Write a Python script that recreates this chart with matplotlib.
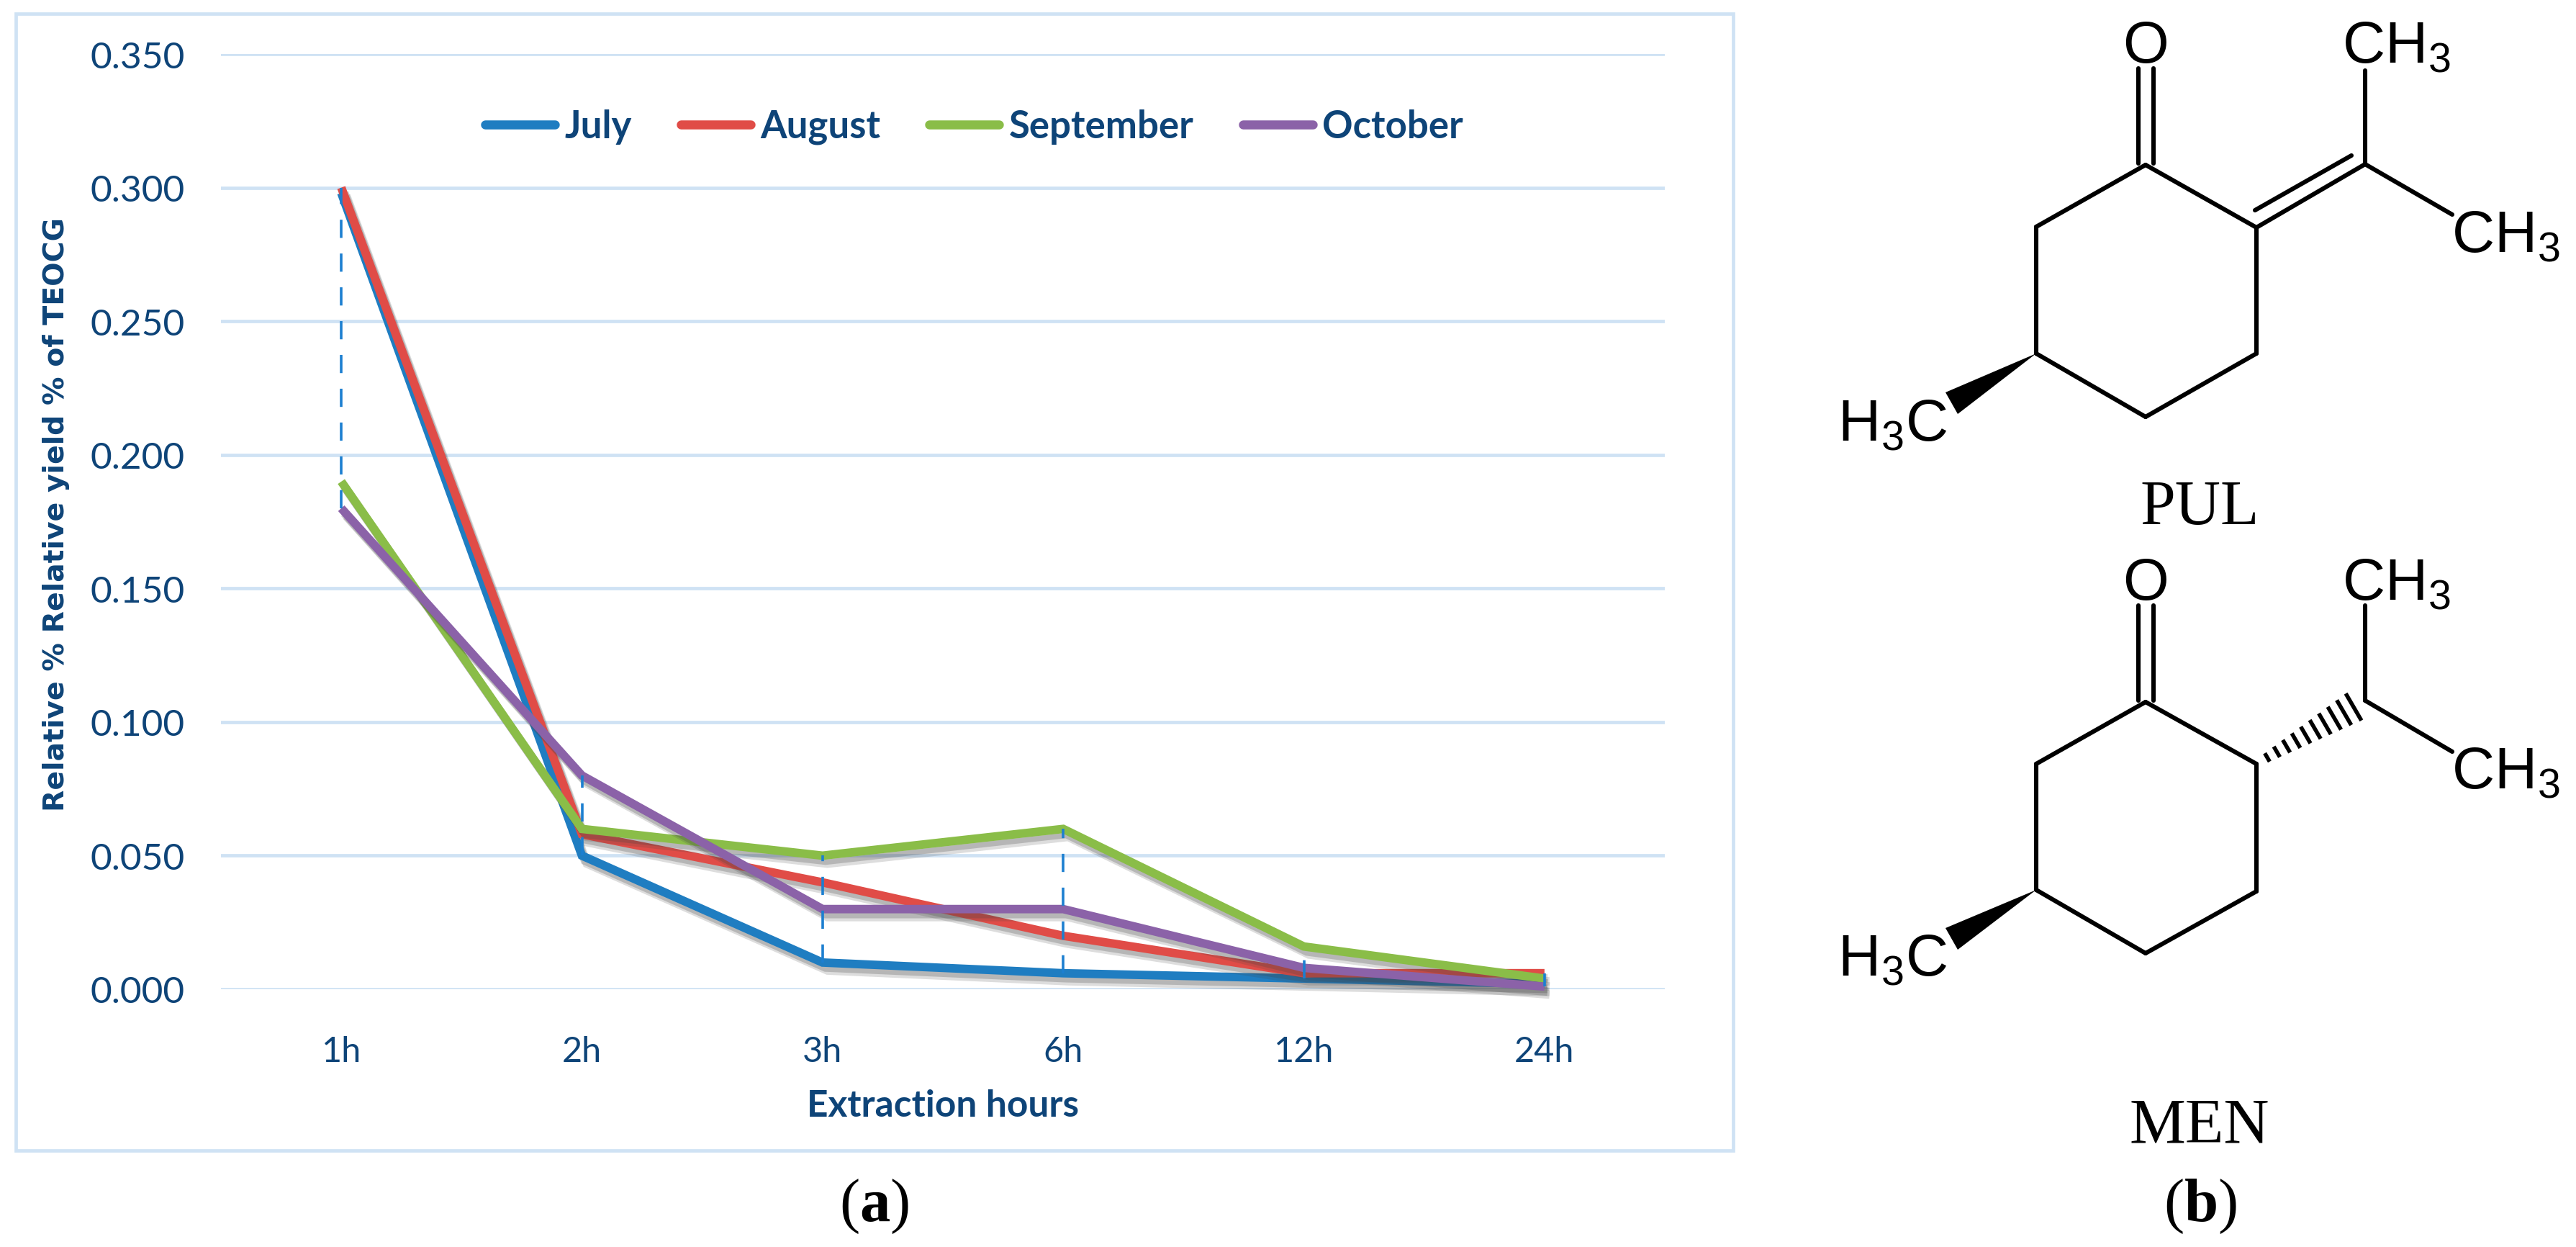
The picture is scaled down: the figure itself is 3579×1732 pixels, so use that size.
#!/usr/bin/env python
import numpy as np
import matplotlib
matplotlib.use('Agg')
import matplotlib.pyplot as plt
import matplotlib.patheffects as pe
from matplotlib.patches import Polygon, Rectangle

# chart values
hours = ['1h', '2h', '3h', '6h', '12h', '24h']
july = [0.298, 0.050, 0.010, 0.006, 0.004, 0.002]
august = [0.300, 0.058, 0.040, 0.020, 0.006, 0.006]
september = [0.190, 0.060, 0.050, 0.060, 0.016, 0.004]
october = [0.180, 0.080, 0.030, 0.030, 0.008, 0.001]
y_ticks = [0.0, 0.05, 0.10, 0.15, 0.20, 0.25, 0.30, 0.35]

W, H = 3580, 1733
TEXT_BLUE = '#0E4478'
GRID_BLUE = '#CFE2F4'

plt.rcParams['mathtext.fontset'] = 'custom'
plt.rcParams['mathtext.rm'] = 'Liberation Sans'
plt.rcParams['mathtext.bf'] = 'Liberation Serif:bold'

fig = plt.figure(figsize=(W / 100, H / 100), dpi=100, facecolor='white')

# panel (a)
left, right, top, bottom = 307, 2313, 76, 1375
ax = fig.add_axes([left / W, 1 - bottom / H, (right - left) / W, (bottom - top) / H])
ax.set_xlim(-0.5, 5.5)
ax.set_ylim(0, 0.35)
for s in ax.spines.values():
    s.set_visible(False)
ax.set_axisbelow(True)
ax.yaxis.grid(True, color=GRID_BLUE, lw=3.4)
ax.xaxis.grid(False)
ax.tick_params(length=0)
ax.set_yticks(y_ticks)
ax.set_yticklabels([f'{v:.3f}' for v in y_ticks], family='Lato', fontsize=37, color=TEXT_BLUE)
ax.set_xticks(range(len(hours)))
ax.set_xticklabels(hours, family='Lato', fontsize=35, color=TEXT_BLUE)
ax.tick_params(axis='y', pad=36)
ax.tick_params(axis='x', pad=46)

series = [('July', july, '#1F7DC1'), ('August', august, '#E04C47'),
          ('September', september, '#8ABD48'), ('October', october, '#8B62A8')]
shadow = [pe.SimpleLineShadow(offset=(5, -8), shadow_color='#444444', alpha=0.18),
          pe.SimpleLineShadow(offset=(3, -5), shadow_color='#444444', alpha=0.25), pe.Normal()]
for name, vals, col in series:
    ax.plot(range(len(hours)), vals, color=col, lw=8.5, label=name, clip_on=False,
            solid_joinstyle='miter', solid_capstyle='butt', path_effects=shadow)

# high-low lines between the series
table = np.array([v for _, v, _ in series])
ax.vlines(range(len(hours)), table.min(axis=0), table.max(axis=0), color='#1C7FD0', lw=2.6,
          linestyles=(0, (7, 6)), zorder=5)

leg = ax.legend(loc='upper left', bbox_to_anchor=(0.183, 0.9415), ncol=4, frameon=False,
                handlelength=1.84, handletextpad=0.25, columnspacing=1.29, borderpad=0, borderaxespad=0,
                prop={'family': 'Lato', 'weight': 'bold', 'size': 38})
for t in leg.get_texts():
    t.set_color(TEXT_BLUE)
for ln in leg.get_lines():
    ln.set_path_effects([])
    ln.set_linewidth(9)
    ln.set_solid_capstyle('round')

ax.set_xlabel('Extraction hours', family='Lato', weight='bold', fontsize=37, color=TEXT_BLUE, labelpad=22)
ax.set_ylabel('Relative % Relative yield % of TEOCG', family='DejaVu Sans', weight='bold', fontsize=28.4,
              color=TEXT_BLUE)
ax.yaxis.set_label_coords(-0.1045, 0.5087)

# overlay in image pixels for the frame and panel (b)
ov = fig.add_axes([0, 0, 1, 1], facecolor='none')
ov.set_xlim(0, W)
ov.set_ylim(H, 0)
ov.axis('off')
ov.add_patch(Rectangle((22, 20), 2386, 1579, fill=False, ec=GRID_BLUE, lw=3.4))

# ring atoms of the two structures
pul_ring = [(2981, 230), (3135, 317), (3135, 492), (2981, 580), (2829, 492), (2829, 316)]
men_ring = [(2981, 976), (3135, 1062), (3135, 1239), (2981, 1325), (2829, 1237), (2829, 1062)]
BOND = 4.4


def bond(p, q):
    ov.plot([p[0], q[0]], [p[1], q[1]], color='black', lw=BOND, solid_capstyle='round')


def ring(pts):
    for i in range(len(pts)):
        bond(pts[i], pts[(i + 1) % len(pts)])


def atom(x, y, s, ha='left'):
    ov.text(x, y, s, family='Liberation Sans', fontsize=59, ha=ha, va='baseline', color='black')


def serif(x, y, s, size=63):
    ov.text(x, y, s, family='Liberation Serif', fontsize=size, ha='center', va='baseline', color='black')


# PUL
ring(pul_ring)
bond((2971, 96), (2971, 228))
bond((2992, 96), (2992, 228))
bond((3135, 317), (3286, 229))
bond((3133, 293), (3267, 217))
bond((3286, 229), (3286, 99))
bond((3286, 229), (3407, 299))
ov.add_patch(Polygon([(2829, 492), (2703, 546), (2720, 576)], fc='black', ec='none'))
atom(2981, 87, 'O', ha='center')
atom(3254, 87, 'CH$_{\\mathrm{3}}$')
atom(3406, 350, 'CH$_{\\mathrm{3}}$')
atom(2553, 612, 'H$_{\\mathrm{3}}$C')
serif(3056, 728, 'PUL')

# MEN
ring(men_ring)
bond((2971, 842), (2971, 974))
bond((2992, 842), (2992, 974))
bond((3286, 974), (3286, 842))
bond((3286, 974), (3407, 1045))
ov.add_patch(Polygon([(2829, 1237), (2703, 1290), (2720, 1320)], fc='black', ec='none'))
# hashed bond, dashes widen towards the isopropyl carbon
for f in np.linspace(0, 1, 10):
    cx, cy = 3150 + f * (3270 - 3150), 1053 + f * (983 - 1053)
    half = 4 + f * 15
    ov.plot([cx - half * 0.5, cx + half * 0.5], [cy - half * 0.86, cy + half * 0.86], color='black', lw=4)
atom(2981, 833, 'O', ha='center')
atom(3254, 833, 'CH$_{\\mathrm{3}}$')
atom(3406, 1095, 'CH$_{\\mathrm{3}}$')
atom(2553, 1355, 'H$_{\\mathrm{3}}$C')
serif(3056, 1587, 'MEN')

# panel letters
serif(1215, 1696, '($\\mathbf{a}$)', size=61)
serif(3057, 1696, '($\\mathbf{b}$)', size=61)

fig.savefig('out.png', dpi=100)
